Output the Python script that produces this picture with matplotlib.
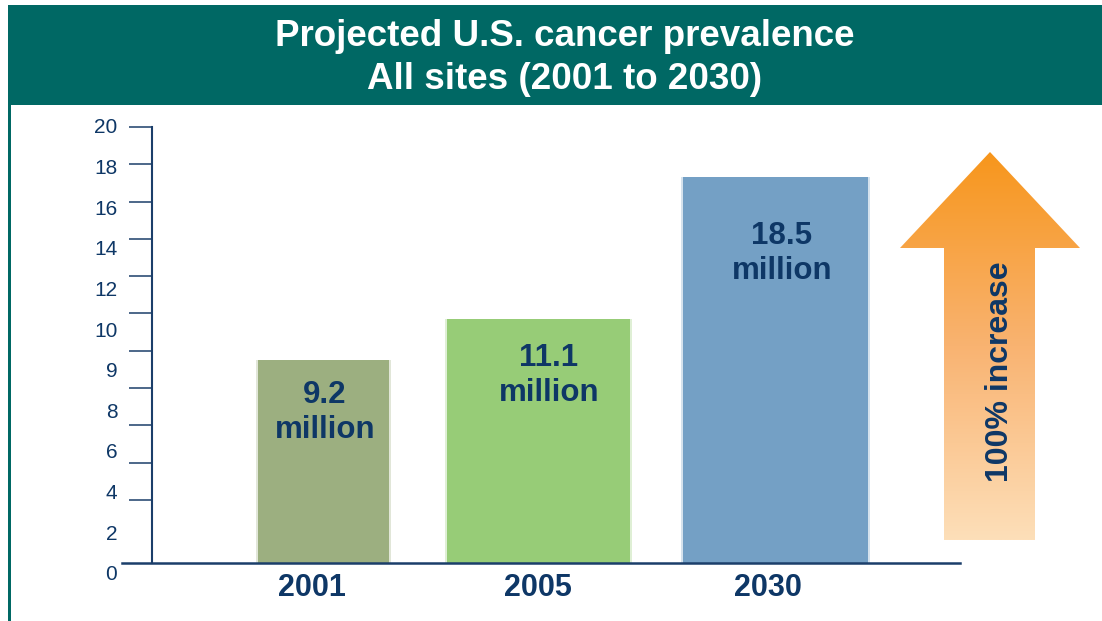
import numpy as np
import matplotlib
matplotlib.use("Agg")
import matplotlib.pyplot as plt
from matplotlib.patches import Polygon, Rectangle
from matplotlib.colors import LinearSegmentedColormap

# ---- data ----
categories = ["2001", "2005", "2030"]
bar_heights = [9.3, 11.2, 17.7]          # heights as drawn in the picture
bar_labels = ["9.2\nmillion", "11.1\nmillion", "18.5\nmillion"]
ytick_labels = ["0", "2", "4", "6", "8", "9", "10", "12", "14", "16", "18", "20"]
title_text = "Projected U.S. cancer prevalence\nAll sites (2001 to 2030)"
arrow_text = "100% increase"

# ---- style ----
W, H = 1102, 621
navy = "#0E3766"
axis_col = "#1B3E6A"
teal = "#006864"
bar_colors = ["#9CAF80", "#97CC77", "#74A0C5"]
label_offsets = [2.4, 2.6, 3.5]
label_x = [325, 549, 782]
plt.rcParams["font.family"] = ["Liberation Sans", "DejaVu Sans"]

fig = plt.figure(figsize=(W / 100, H / 100), dpi=100)
fig.patch.set_facecolor("white")

# chart axes: x in pixel-like units, y in data units
x0, x1 = 122, 960
ybase, ytop = 563, 127
ppu = (ybase - ytop) / 20.0
ylo, yhi = -0.6, 20.2
pix_bot = ybase + (-ylo) * ppu
pix_top = ytop - (yhi - 20) * ppu
ax = fig.add_axes([x0 / W, (H - pix_bot) / H, (x1 - x0) / W, (pix_bot - pix_top) / H])
ax.patch.set_visible(False)

centers = [323, 538, 775]
widths = [131, 183, 185]
for c, w, h, col, lab, off, lx in zip(centers, widths, bar_heights, bar_colors,
                                      bar_labels, label_offsets, label_x):
    ax.bar(c, h, width=w + 4, color=col, alpha=0.3, linewidth=0, zorder=1)
    ax.bar(c, h, width=w, color=col, linewidth=0, zorder=2)
    ax.text(lx, h - off, lab, ha="center", va="center", fontsize=22.5,
            fontweight="bold", color=navy, linespacing=1.2, zorder=3)

for c, cat in zip([312, 538, 768], categories):
    ax.text(c, -1.15, cat, ha="center", va="center", fontsize=22,
            fontweight="bold", color=navy, clip_on=False)

for s in ["top", "right"]:
    ax.spines[s].set_visible(False)
ax.spines["left"].set_position(("data", 152))
ax.spines["left"].set_bounds(0, 20)
ax.spines["left"].set_color(axis_col)
ax.spines["left"].set_linewidth(1.5)
ax.spines["bottom"].set_position(("data", 0))
ax.spines["bottom"].set_color(axis_col)
ax.spines["bottom"].set_linewidth(1.8)
ax.spines["bottom"].set_zorder(4)

ax.set_xticks([])
ax.set_yticks(np.linspace(-0.45, 20.05, len(ytick_labels)))
ax.set_yticklabels(ytick_labels)
ax.tick_params(axis="y", which="major", length=0, pad=25, labelsize=15,
               labelcolor=navy)
ax.set_yticks(np.linspace(2.9, 20.0, 11), minor=True)
ax.tick_params(axis="y", which="minor", length=16.5, width=1.1, color=axis_col)
ax.set_xlim(x0, x1)
ax.set_ylim(ylo, yhi)

# overlay in pixel coordinates
ov = fig.add_axes([0, 0, 1, 1], zorder=5)
ov.set_xlim(0, W)
ov.set_ylim(H, 0)
ov.axis("off")
ov.patch.set_visible(False)

ov.add_patch(Rectangle((8, 5), W - 8, 100, color=teal, linewidth=0))
ov.add_patch(Rectangle((8, 100), 3, H - 100, color=teal, linewidth=0))
ov.text(565, 58, title_text, ha="center", va="center", color="white",
        fontsize=26.5, fontweight="bold", linespacing=1.28)

arrow_pts = [(944, 540), (944, 248), (900, 248), (990, 152), (1080, 248),
             (1035, 248), (1035, 540)]
poly = Polygon(arrow_pts, closed=True, facecolor="none", edgecolor="none")
ov.add_patch(poly)
cmap = LinearSegmentedColormap.from_list("og", ["#F7961C", "#F9B371", "#FDDFB9"])
grad = np.linspace(0, 1, 256).reshape(-1, 1)
im = ov.imshow(grad, extent=[900, 1080, 540, 152], cmap=cmap, aspect="auto",
               origin="upper", zorder=1)
im.set_clip_path(poly)
ov.set_xlim(0, W)
ov.set_ylim(H, 0)
ov.text(1000, 372, arrow_text, rotation=90, ha="center", va="center",
        fontsize=23, fontweight="bold", color=navy, zorder=2)

fig.savefig("out.png", dpi=100)
